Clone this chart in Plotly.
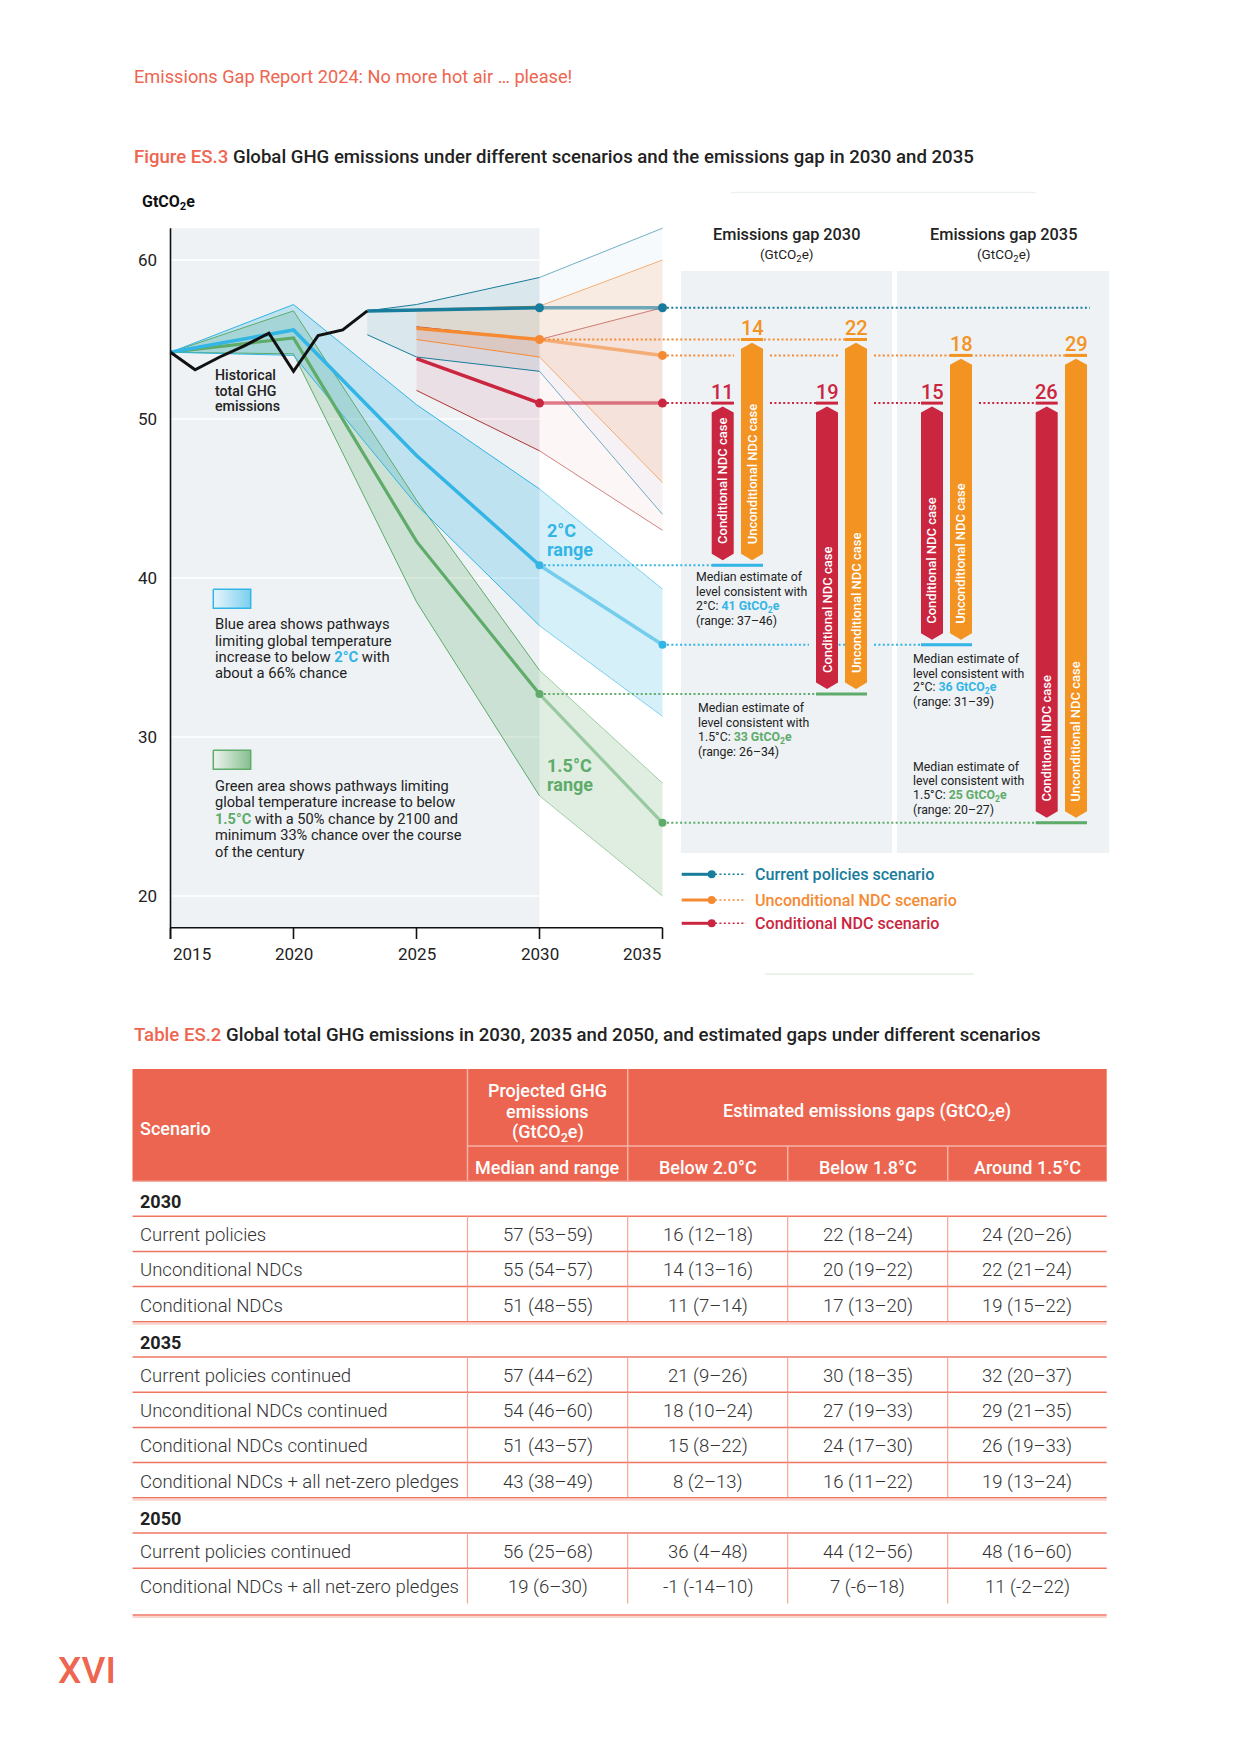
import plotly.graph_objects as go

# ===================== DATA =====================
hist_years = [2015, 2016, 2017, 2018, 2019, 2020, 2021, 2022, 2023]
hist_vals = [54.2, 53.1, 53.9, 54.6, 55.4, 53.0, 55.25, 55.6, 56.8]

cp_years = [2023, 2025, 2030, 2035]
cp_med = [56.8, 56.85, 57.0, 57.0]
cp_hi = [56.8, 57.2, 58.9, 62.0]
cp_lo = [55.3, 53.9, 53.0, 44.0]

ndc_years = [2025, 2030, 2035]
unc_med = [55.7, 55.0, 54.0]
unc_hi = [56.9, 57.1, 60.0]
unc_lo = [55.0, 53.9, 46.0]
con_med = [53.8, 51.0, 51.0]
con_hi = [55.8, 55.0, 57.0]
con_lo = [51.8, 48.0, 43.0]

path_years = [2015, 2020, 2025, 2030, 2035]
t2_med = [54.2, 55.6, 47.7, 40.8, 35.8]
t2_hi = [54.2, 57.2, 50.9, 45.6, 39.3]
t2_lo = [54.2, 54.0, 44.6, 37.0, 31.3]
t15_med = [54.2, 55.1, 42.3, 32.7, 24.6]
t15_hi = [54.2, 56.8, 44.9, 34.2, 27.1]
t15_lo = [54.2, 54.1, 38.5, 26.3, 20.0]

y_ticks = [20, 30, 40, 50, 60]
x_ticks = [2015, 2020, 2025, 2030, 2035]

gap_years = [2030, 2035]
gap_labels = {2030: [11, 14, 19, 22], 2035: [15, 18, 26, 29]}
gap_cases = ["Conditional NDC case", "Unconditional NDC case"]

est_targets = ["2°C", "1.5°C", "2°C", "1.5°C"]
est_values = [41, 33, 36, 25]
est_ranges = ["37–46", "26–34", "31–39", "20–27"]

scen_names = ["Current policies scenario", "Unconditional NDC scenario", "Conditional NDC scenario"]

tbl_head_sub = ["Median and range", "Below 2.0°C", "Below 1.8°C", "Around 1.5°C"]
tbl_sections = ["2030", "2035", "2050"]
tbl_names = {
    "2030": ["Current policies", "Unconditional NDCs", "Conditional NDCs"],
    "2035": ["Current policies continued", "Unconditional NDCs continued",
             "Conditional NDCs continued", "Conditional NDCs + all net-zero pledges"],
    "2050": ["Current policies continued", "Conditional NDCs + all net-zero pledges"],
}
tbl_proj = {
    "2030": ["57 (53–59)", "55 (54–57)", "51 (48–55)"],
    "2035": ["57 (44–62)", "54 (46–60)", "51 (43–57)", "43 (38–49)"],
    "2050": ["56 (25–68)", "19 (6–30)"],
}
tbl_gap20 = {
    "2030": ["16 (12–18)", "14 (13–16)", "11 (7–14)"],
    "2035": ["21 (9–26)", "18 (10–24)", "15 (8–22)", "8 (2–13)"],
    "2050": ["36 (4–48)", "-1 (-14–10)"],
}
tbl_gap18 = {
    "2030": ["22 (18–24)", "20 (19–22)", "17 (13–20)"],
    "2035": ["30 (18–35)", "27 (19–33)", "24 (17–30)", "16 (11–22)"],
    "2050": ["44 (12–56)", "7 (-6–18)"],
}
tbl_gap15 = {
    "2030": ["24 (20–26)", "22 (21–24)", "19 (15–22)"],
    "2035": ["32 (20–37)", "29 (21–35)", "26 (19–33)", "19 (13–24)"],
    "2050": ["48 (16–60)", "11 (-2–22)"],
}

# ===================== STYLE / LAYOUT =====================
W, H = 1240, 1754
FONT = "Roboto"
TEAL = "#187C9C"
ORANGE = "#F58A33"
ORANGE_BAR = "#F39322"
RED = "#CB2640"
DARKRED = "#B0342F"
BLUE = "#33B5E5"
GREEN = "#5EAB6A"
SALMON = "#EE6550"
GRAY_BG = "#EEF2F5"
TXT = "#222222"

PXY, X0PX = 24.6, 170.5     # px per year, px of 2015
PXU, Y60PX = 15.9, 260.0    # px per GtCO2e, px of 60


def X(px):
    return 2015 + (px - X0PX) / PXY


def Y(py):
    return 60 - (py - Y60PX) / PXU


def D(p):
    return p / PXU


def val(years, series, yr):
    return series[years.index(yr)]


fig = go.Figure()
shapes = []
anns = []


def ann(px, py, text, size, color=TXT, weight=400, xanchor="left", yanchor="middle", angle=0):
    anns.append(dict(x=X(px), y=Y(py), xref="x", yref="y", text=text, showarrow=False,
                     xanchor=xanchor, yanchor=yanchor, textangle=angle,
                     font=dict(family=FONT, size=size, color=color, weight=weight)))


def ann_d(x, y, text, size, color=TXT, weight=400, xanchor="center", yanchor="middle", angle=0):
    anns.append(dict(x=x, y=y, xref="x", yref="y", text=text, showarrow=False,
                     xanchor=xanchor, yanchor=yanchor, textangle=angle,
                     font=dict(family=FONT, size=size, color=color, weight=weight)))


def line_d(x0, y0, x1, y1, color, width=1.5, dash="solid", layer="above"):
    shapes.append(dict(type="line", xref="x", yref="y", x0=x0, y0=y0, x1=x1, y1=y1,
                       line=dict(color=color, width=width, dash=dash), layer=layer))


def line_px(px0, py0, px1, py1, color, width=1.5, dash="solid", layer="above"):
    line_d(X(px0), Y(py0), X(px1), Y(py1), color, width, dash, layer)


def rect_px(px0, py0, px1, py1, color, layer="below"):
    shapes.append(dict(type="rect", xref="x", yref="y", x0=X(px0), x1=X(px1), y0=Y(py0), y1=Y(py1),
                       fillcolor=color, line=dict(width=0), layer=layer))


def trace_line(xs, ys, color, width, dash="solid"):
    fig.add_trace(go.Scatter(x=xs, y=ys, mode="lines", line=dict(color=color, width=width, dash=dash),
                             hoverinfo="skip", showlegend=False))


def split(xs, ys, at=2030):
    i = xs.index(at)
    return (xs[:i + 1], ys[:i + 1]), (xs[i:], ys[i:])


# ===================== PAGE TEXT =====================
ann(132, 76.7, "Emissions Gap Report 2024: No more hot air … please!", 18.2, SALMON)
ann(132, 157, "<span style='color:%s'>Figure ES.3</span> Global GHG emissions under different scenarios "
              "and the emissions gap in 2030 and 2035" % SALMON, 18.6, TXT, 500)
ann(132, 1034.5, "<span style='color:%s'>Table ES.2</span> Global total GHG emissions in 2030, 2035 and 2050, "
                 "and estimated gaps under different scenarios" % SALMON, 18.6, TXT, 500)
ann(56, 1670, "XVI", 37, SALMON, 500)

# faint artefact lines of the original page
line_px(731, 192.6, 1036, 192.6, "#EEF1F3", 1.5)
line_px(765, 974, 974, 974, "#E3F1E1", 1.5)

# ===================== LEFT CHART =====================
shapes.append(dict(type="rect", xref="x", yref="y", x0=2015, x1=2030, y0=18, y1=62,
                   fillcolor=GRAY_BG, line=dict(width=0), layer="below"))
for v in y_ticks:
    line_d(2015, v, 2030, v, "white", 1.5, layer="below")
    ann(158.8, Y60PX + (60 - v) * PXU, str(v), 17, TXT, 400, xanchor="right")

# axes
line_d(2015, Y(939), 2015, 62, "#111111", 1.6)
line_d(2015, 18, 2035, 18, "#111111", 1.6)
for i, xt in enumerate(x_ticks):
    line_d(xt, 18, xt, Y(939), "#111111", 1.6)
    xa = "left" if i == 0 else ("right" if i == len(x_ticks) - 1 else "center")
    ann_d(xt, Y(954), str(xt), 17, TXT, 400, xanchor=xa)

ann(140, 202.7, "<b>GtCO<sub>2</sub>e</b>", 16, "#111111")


# bands (split at 2030: the part beyond 2030 sits on white and is lighter)
def band(xs, hi, lo, fill_pre, fill_post):
    (ax, ah), (bx, bh) = split(xs, hi)
    (_, al), (_, bl) = split(xs, lo)
    for px_, ph, pl, fc in [(ax, ah, al, fill_pre), (bx, bh, bl, fill_post)]:
        fig.add_trace(go.Scatter(x=px_ + px_[::-1], y=ph + pl[::-1], fill="toself", fillcolor=fc,
                                 mode="lines", line=dict(width=0), hoverinfo="skip", showlegend=False))


band(path_years, t15_hi, t15_lo, "rgba(94,171,106,0.24)", "rgba(94,171,106,0.2)")
band(path_years, t2_hi, t2_lo, "rgba(51,181,229,0.25)", "rgba(51,181,229,0.2)")
band(cp_years, cp_hi, cp_lo, "rgba(24,124,156,0.09)", "rgba(24,124,156,0.035)")
band(ndc_years, unc_hi, unc_lo, "rgba(245,138,51,0.15)", "rgba(245,138,51,0.13)")
band(ndc_years, con_hi, con_lo, "rgba(203,38,64,0.09)", "rgba(203,38,64,0.045)")

# band boundaries
for xs, ser, c_pre, c_post in [
    (path_years, t15_hi, GREEN, "rgba(94,171,106,0.55)"),
    (path_years, t15_lo, GREEN, "rgba(94,171,106,0.55)"),
    (path_years, t2_hi, BLUE, "rgba(51,181,229,0.6)"),
    (path_years, t2_lo, BLUE, "rgba(51,181,229,0.6)"),
    (cp_years, cp_hi, TEAL, "rgba(24,124,156,0.6)"),
    (cp_years, cp_lo, TEAL, "rgba(24,124,156,0.6)"),
    (ndc_years, unc_hi, ORANGE, "rgba(245,138,51,0.65)"),
    (ndc_years, unc_lo, ORANGE, "rgba(245,138,51,0.65)"),
    (ndc_years, con_hi, DARKRED, "rgba(176,52,47,0.6)"),
    (ndc_years, con_lo, DARKRED, "rgba(176,52,47,0.6)"),
]:
    (ax, ay), (bx, by) = split(xs, ser)
    trace_line(ax, ay, c_pre, 1.0)
    trace_line(bx, by, c_post, 1.0)

# medians
for xs, ser, c_pre, c_post, w in [
    (path_years, t15_med, GREEN, "rgba(94,171,106,0.55)", 3.2),
    (path_years, t2_med, BLUE, "rgba(51,181,229,0.6)", 3.5),
    (cp_years, cp_med, TEAL, "rgba(24,124,156,0.6)", 3.5),
    (ndc_years, unc_med, ORANGE, "rgba(245,138,51,0.6)", 3.5),
    (ndc_years, con_med, RED, "rgba(203,38,64,0.6)", 3.5),
]:
    (ax, ay), (bx, by) = split(xs, ser)
    trace_line(ax, ay, c_pre, w)
    trace_line(bx, by, c_post, w)

# historical
trace_line(hist_years, hist_vals, "#111111", 3.0)

# chart labels
for py, t in zip([375, 390.5, 406], ["Historical", "total GHG", "emissions"]):
    ann(213, py, t, 14.2, TXT, 500)
ann(545, 530.3, "2°C", 18, BLUE, 700)
ann(545, 549.0, "range", 18, BLUE, 700)
ann(545, 765.3, "1.5°C", 18, GREEN, 700)
ann(545, 784.3, "range", 18, GREEN, 700)


# swatches with gradient
def swatch(px0, py0, px1, py1, c0, c1, border):
    xs = [X(px0), X(px1), X(px1), X(px0), X(px0)]
    ys = [Y(py0), Y(py0), Y(py1), Y(py1), Y(py0)]
    fig.add_trace(go.Scatter(x=xs, y=ys, fill="toself", mode="lines", line=dict(color=border, width=1.5),
                             fillgradient=dict(type="horizontal", colorscale=[[0, c0], [1, c1]]),
                             hoverinfo="skip", showlegend=False))


swatch(213.3, 589.3, 250.7, 608.3, "#E8F6FC", "#7ACFEF", BLUE)
swatch(213.3, 750.3, 250.7, 769.3, "#EEF4EF", "#86BF8F", GREEN)

blue_txt = ["Blue area shows pathways", "limiting global temperature",
            "increase to below <span style='color:%s'><b>2°C</b></span> with" % BLUE, "about a 66% chance"]
for py, t in zip([624, 640.5, 656.8, 673.2], blue_txt):
    ann(213, py, t, 14.8, TXT)
green_txt = ["Green area shows pathways limiting", "global temperature increase to below",
             "<span style='color:%s'><b>1.5°C</b></span> with a 50%% chance by 2100 and" % GREEN,
             "minimum 33% chance over the course", "of the century"]
for py, t in zip([786, 802.3, 818.7, 835.3, 851.7], green_txt):
    ann(213, py, t, 14.6, TXT)

# ===================== RIGHT PANELS =====================
PANEL_PX = {2030: (681, 892), 2035: (897, 1109.3)}
for yr in gap_years:
    p0, p1 = PANEL_PX[yr]
    rect_px(p0, 271, p1, 853, GRAY_BG)
    cx = (p0 + p1) / 2
    ann(cx, 234.3, "Emissions gap %d" % yr, 16.3, TXT, 500, xanchor="center")
    ann(cx, 254.5, "(GtCO<sub>2</sub>e)", 13.5, TXT, 400, xanchor="center")

BAR_PX = {2030: [711.7, 741.0, 816.0, 845.0], 2035: [921.0, 950.0, 1035.7, 1065.0]}
BAR_W = 22.0
bars = []
for yr in gap_years:
    tops = [val(ndc_years, con_med, yr), val(ndc_years, unc_med, yr)] * 2
    bots = [val(path_years, t2_med, yr)] * 2 + [val(path_years, t15_med, yr)] * 2
    for k in range(4):
        bars.append(dict(yr=yr, x0=X(BAR_PX[yr][k]), x1=X(BAR_PX[yr][k] + BAR_W), T=tops[k], B=bots[k],
                         color=[RED, ORANGE_BAR][k % 2], label=gap_labels[yr][k], case=gap_cases[k % 2]))

# level lines (dotted connectors + underlines)
level_series = [(cp_years, cp_med, TEAL, "T"), (ndc_years, unc_med, ORANGE, "T"),
                (ndc_years, con_med, RED, "T"), (path_years, t2_med, BLUE, "B"),
                (path_years, t15_med, GREEN, "B")]
GAP_PAD = 7.0 / PXY
for xs, ser, color, key in level_series:
    v30, v35 = val(xs, ser, 2030), val(xs, ser, 2035)
    entries = [(v35, 2035)] if v30 == v35 else [(v30, 2030), (v35, 2035)]
    for v, start in entries:
        matched = [b for b in bars if b[key] == v]
        end = max(b["x1"] for b in matched) if matched else X(1090)
        gaps = sorted([(b["x0"] - GAP_PAD, b["x1"] + GAP_PAD) for b in bars
                       if b["B"] < v < b["T"] and start < b["x0"] < end])
        cur = start
        for g0, g1 in gaps:
            line_d(cur, v, g0, v, color, 2, dash="2px,2.4px")
            cur = g1
        line_d(cur, v, end, v, color, 2, dash="2px,2.4px")
        # underlines
        if key == "T":
            for b in matched:
                line_d(b["x0"], v, b["x1"], v, color if color != ORANGE else ORANGE_BAR, 3)
        else:
            for yr in gap_years:
                grp = [b for b in matched if b["yr"] == yr]
                if grp:
                    line_d(min(b["x0"] for b in grp), v, max(b["x1"] for b in grp), v, color, 3)

# bars
for b in bars:
    x0, x1 = b["x0"], b["x1"]
    xc = (x0 + x1) / 2
    T, B = b["T"], b["B"]
    xs = [x0, xc, x1, x1, xc, x0, x0]
    ys = [T - D(9.3), T - D(3.3), T - D(9.3), B + D(11.5), B + D(5), B + D(11.5), T - D(9.3)]
    fig.add_trace(go.Scatter(x=xs, y=ys, fill="toself", fillcolor=b["color"], mode="lines",
                             line=dict(width=0), hoverinfo="skip", showlegend=False))
    ann_d(xc, T + D(11.5), str(b["label"]), 20, b["color"], 500)
    ann_d(xc, B + D(19), b["case"], 13, "white", 500, yanchor="bottom", angle=-90)

# dots at 2030 / 2035
for xs, ser, color, size in [(cp_years, cp_med, TEAL, 9), (ndc_years, unc_med, ORANGE, 9),
                             (ndc_years, con_med, RED, 9), (path_years, t2_med, BLUE, 8),
                             (path_years, t15_med, GREEN, 8)]:
    fig.add_trace(go.Scatter(x=[2030, 2035], y=[val(xs, ser, 2030), val(xs, ser, 2035)], mode="markers",
                             marker=dict(color=color, size=size), hoverinfo="skip", showlegend=False))

# median estimate texts
EST_POS = [(694.3, [576.7, 591.5, 606.5, 620.5]), (696.3, [708.3, 722.8, 737.5, 751.7]),
           (911, [659, 673.5, 688, 702.3]), (911, [766.7, 781, 795.5, 810])]
for (px, pys), tgt, v, rg in zip(EST_POS, est_targets, est_values, est_ranges):
    c = BLUE if tgt == "2°C" else GREEN
    lines = ["Median estimate of", "level consistent with",
             "%s: <span style='color:%s'><b>%d GtCO<sub>2</sub>e</b></span>" % (tgt, c, v),
             "(range: %s)" % rg]
    for py, t in zip(pys, lines):
        ann(px, py, t, 12.3, TXT)

# scenario legend
for name, color, py in zip(scen_names, [TEAL, ORANGE, RED], [874.3, 900, 923.3]):
    line_px(681.7, py, 711.7, py, color, 3)
    line_px(715, py, 746, py, color, 1.6, dash="2px,2.4px")
    fig.add_trace(go.Scatter(x=[X(711.7)], y=[Y(py)], mode="markers", marker=dict(color=color, size=8),
                             hoverinfo="skip", showlegend=False))
    ann(753, py, name, 16.1, color, 500)

# ===================== TABLE =====================
COLS = [132.5, 467.5, 627.7, 787.7, 947.7, 1106.7]
HT, HM, HB = 1069, 1146, 1181
ROW_H = 35.2
LINE_C = "#EF7563"
VLINE_C = "#F4A597"
HEAD_FILL = "#EC6550"
HEAD_LINE = "#F6B4A9"
TB = 18.5   # table body font size
TH = 18.0   # table header font size
BODY_C = "#333333"

rect_px(COLS[0], HT, COLS[-1], HB, HEAD_FILL, layer="above")
line_px(COLS[1], HT, COLS[1], HB, HEAD_LINE, 1.5)
line_px(COLS[2], HT, COLS[2], HB, HEAD_LINE, 1.5)
line_px(COLS[1], HM, COLS[-1], HM, HEAD_LINE, 1.5)
line_px(COLS[3], HM, COLS[3], HB, HEAD_LINE, 1.5)
line_px(COLS[4], HM, COLS[4], HB, HEAD_LINE, 1.5)
line_px(COLS[0], HB, COLS[-1], HB, "#F28E7F", 1.5)

ann(137.5, 1128.3, "Scenario", TH, "white", 500)
c2 = (COLS[1] + COLS[2]) / 2
for py, t in zip([1090.5, 1111.5, 1133], ["Projected GHG", "emissions", "(GtCO<sub>2</sub>e)"]):
    ann(c2, py, t, TH, "white", 500, xanchor="center")
ann((COLS[2] + COLS[5]) / 2, 1111.5, "Estimated emissions gaps (GtCO<sub>2</sub>e)", TH, "white", 500,
    xanchor="center")
for k, t in enumerate(tbl_head_sub):
    ann((COLS[k + 1] + COLS[k + 2]) / 2, 1167, t, TH, "white", 500, xanchor="center")

row = 0
n_sec = len(tbl_sections)
for si, sec in enumerate(tbl_sections):
    top = HB + row * ROW_H
    ann(137.5, top + 20.5, "<b>%s</b>" % sec, 18, TXT)
    line_px(COLS[0], top + ROW_H, COLS[-1], top + ROW_H, LINE_C, 1.5)
    row += 1
    names = tbl_names[sec]
    for ri, nm in enumerate(names):
        top = HB + row * ROW_H
        bot = top + ROW_H
        cy = top + 19
        ann(137.5, cy, nm, TB, BODY_C, 300)
        for k, arr in enumerate([tbl_proj, tbl_gap20, tbl_gap18, tbl_gap15]):
            ann((COLS[k + 1] + COLS[k + 2]) / 2, cy, arr[sec][ri], TB, BODY_C, 300, xanchor="center")
        for cx in COLS[1:5]:
            line_px(cx, top, cx, bot, VLINE_C, 1.2)
        last = ri == len(names) - 1
        if not (last and si == n_sec - 1):
            line_px(COLS[0], bot, COLS[-1], bot, LINE_C, 1.5)
            if last:
                line_px(COLS[0], bot + 2, COLS[-1], bot + 2, "#FAD3CC", 2)
        row += 1
end_y = HB + row * ROW_H + 11.5
line_px(COLS[0], end_y, COLS[-1], end_y, LINE_C, 1.5)
line_px(COLS[0], end_y + 2, COLS[-1], end_y + 2, "#FAD3CC", 2)

# ===================== LAYOUT =====================
fig.update_layout(
    width=W, height=H, margin=dict(l=0, r=0, t=0, b=0),
    paper_bgcolor="white", plot_bgcolor="white", showlegend=False,
    font=dict(family=FONT, color=TXT),
    xaxis=dict(range=[X(0), X(W)], visible=False, fixedrange=True),
    yaxis=dict(range=[Y(H), Y(0)], visible=False, fixedrange=True),
    shapes=shapes, annotations=anns,
)

fig.write_html("out.html", config={"displayModeBar": False, "staticPlot": True},
               post_script="document.body.style.margin='0px';")
